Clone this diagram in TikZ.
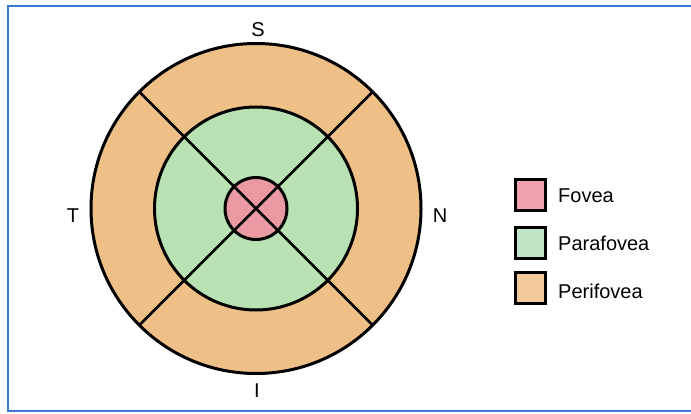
\documentclass[tikz,border=0pt]{standalone}
\usepackage{fontspec}
\setmainfont{Liberation Sans}
\usetikzlibrary{calc}
\definecolor{fov}{HTML}{EB9AA3}
\definecolor{para}{HTML}{B8E1B4}
\definecolor{peri}{HTML}{EEBF86}
\definecolor{fovL}{HTML}{EFA3AF}
\definecolor{paraL}{HTML}{C0E4C6}
\definecolor{periL}{HTML}{F2C999}
\definecolor{frameblue}{HTML}{3B79D2}
\begin{document}
\begin{tikzpicture}[x=1pt,y=1pt,
  ring/.style={draw=black,line width=3pt},
  spoke/.style={draw=black,line width=2.6pt},
  dirlabel/.style={font=\fontsize{20}{23}\selectfont,inner sep=0pt},
  legbox/.style={draw=black,line width=3pt,minimum width=30pt,minimum height=31pt,inner sep=0pt},
  legtext/.style={font=\fontsize{20}{23}\selectfont,anchor=west,inner sep=0pt}]
\useasboundingbox (0,0) rectangle (691,413);
\fill[white] (0,0) rectangle (691,413);
\draw[frameblue,line width=2pt] (700,406.5) -- (7.5,406.5) -- (7.5,2) -- (700,2);
\coordinate (c) at (256,204.5);
% rings
\fill[peri] (c) circle (165);
\fill[para] (c) circle (101.5);
\draw[ring] (c) circle (165);
\draw[ring] (c) circle (101.5);
% spokes
\draw[spoke] ($(c)+(45:165)$) -- ($(c)+(225:165)$);
\draw[spoke] ($(c)+(135:165)$) -- ($(c)+(315:165)$);
\fill[fov] (c) circle (31);
\draw[ring] (c) circle (31);
\draw[spoke] ($(c)+(45:31)$) -- ($(c)+(225:31)$);
\draw[spoke] ($(c)+(135:31)$) -- ($(c)+(315:31)$);
% direction labels
\node[dirlabel] (S) at (258,383) {S};
\node[dirlabel] (T) at (73,197) {T};
\node[dirlabel] (N) at (440,197) {N};
\node[dirlabel] (I) at (257,22) {I};
% legend
\node[legbox,fill=fovL] (bf) at (530.5,218) {};
\node[legbox,fill=paraL] (bp) at (530.5,170.5) {};
\node[legbox,fill=periL] (bq) at (530.5,125) {};
\node[legtext] (tf) at ([xshift=11pt,yshift=-1pt]bf.east) {Fovea};
\node[legtext] (tp) at ([xshift=11pt,yshift=-1pt]bp.east) {Parafovea};
\node[legtext] (tq) at ([xshift=11pt,yshift=-3pt]bq.east) {Perifovea};
\end{tikzpicture}
\end{document}
